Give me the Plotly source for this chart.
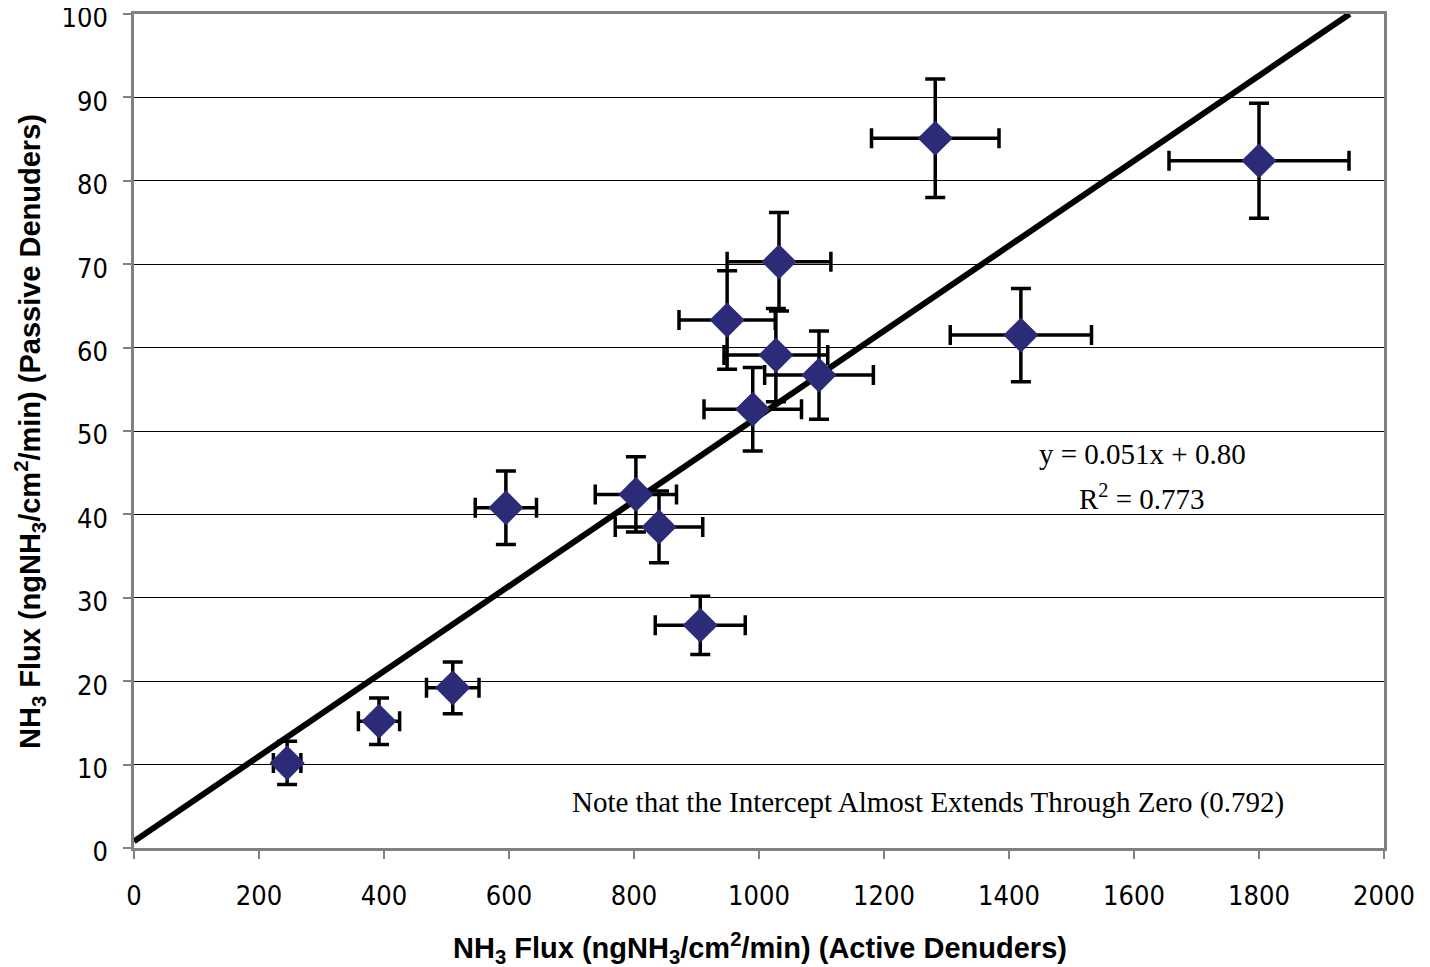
import plotly.graph_objects as go

# Data
active_flux = [245, 392, 510, 595, 803, 840, 906, 990, 1027, 949, 1032, 1096, 1282, 1419, 1800]
passive_flux = [10.2, 15.2, 19.2, 40.8, 42.4, 38.5, 26.7, 52.6, 59.1, 63.3, 70.3, 56.7, 85.1, 61.5, 82.4]
active_err = [22, 33, 42, 49, 65, 70, 72, 78, 83, 77, 83, 87, 102, 113, 144]
passive_err = [2.6, 2.8, 3.1, 4.4, 4.5, 4.3, 3.5, 5.0, 5.6, 5.9, 5.9, 5.3, 7.1, 5.6, 6.9]

slope = 0.051
intercept = 0.80
trend_x = [0, (100 - intercept) / slope]
trend_y = [intercept + slope * v for v in trend_x]

x_ticks = [0, 200, 400, 600, 800, 1000, 1200, 1400, 1600, 1800, 2000]
y_ticks = [0, 10, 20, 30, 40, 50, 60, 70, 80, 90, 100]

fig = go.Figure()

fig.add_trace(go.Scatter(
    x=trend_x, y=trend_y, mode="lines",
    line=dict(color="black", width=6), hoverinfo="skip", showlegend=False,
))

fig.add_trace(go.Scatter(
    x=active_flux, y=passive_flux, mode="markers",
    marker=dict(symbol="diamond", size=27, color="#2B2B78", line=dict(width=0)),
    error_x=dict(type="data", array=active_err, visible=True, color="black", thickness=3.5, width=10),
    error_y=dict(type="data", array=passive_err, visible=True, color="black", thickness=3.5, width=10),
    showlegend=False,
))

tick_font = dict(family="DejaVu Sans Condensed, Liberation Sans, sans-serif", size=27, color="black")
title_font = dict(family="Liberation Sans, Arial, sans-serif", size=29, color="black")
serif_font = dict(family="Liberation Serif, Times New Roman, serif", size=29, color="black")

fig.update_layout(
    width=1414, height=959,
    margin=dict(l=126, r=38, t=6, b=119),
    paper_bgcolor="white", plot_bgcolor="white",
    xaxis=dict(
        range=[0, 2000], tickvals=x_ticks, ticktext=[str(v) for v in x_ticks],
        showgrid=False, zeroline=False, automargin=False,
        showline=True, linecolor="#808080", linewidth=2.5, mirror=True,
        ticks="outside", ticklen=8, tickcolor="#808080", tickwidth=1.5,
        tickfont=tick_font, ticklabelstandoff=14, ticklabeloverflow="allow",
    ),
    yaxis=dict(
        range=[0, 100], tickvals=y_ticks, ticktext=[str(v) for v in y_ticks],
        showgrid=True, gridcolor="black", gridwidth=1, zeroline=False, automargin=False,
        showline=True, linecolor="#808080", linewidth=2.5, mirror=True,
        ticks="outside", ticklen=8, tickcolor="#808080", tickwidth=1.5,
        tickfont=tick_font, ticklabelstandoff=10, ticklabelshift=4, ticklabeloverflow="allow",
    ),
    annotations=[
        dict(x=-0.0832, y=0.4988, xref="paper", yref="paper", textangle=-90,
             text="<b>NH<sub>3</sub> Flux (ngNH<sub>3</sub>/cm<sup>2</sup>/min) (Passive Denuders)</b>",
             showarrow=False, xanchor="center", yanchor="middle", font=title_font),
        dict(x=0.5008, y=-0.1199, xref="paper", yref="paper",
             text="<b>NH<sub>3</sub> Flux (ngNH<sub>3</sub>/cm<sup>2</sup>/min) (Active Denuders)</b>",
             showarrow=False, xanchor="center", yanchor="middle", font=title_font),
        dict(x=1613, y=47.2, xref="x", yref="y", text="y = 0.051x + 0.80", showarrow=False,
             font=serif_font),
        dict(x=1613, y=42.1, xref="x", yref="y", text="R<sup>2</sup> = 0.773", showarrow=False,
             font=serif_font),
        dict(x=1270, y=5.4, xref="x", yref="y",
             text="Note that the Intercept Almost Extends Through Zero (0.792)", showarrow=False,
             font=serif_font),
    ],
)

fig.write_html("out.html")
